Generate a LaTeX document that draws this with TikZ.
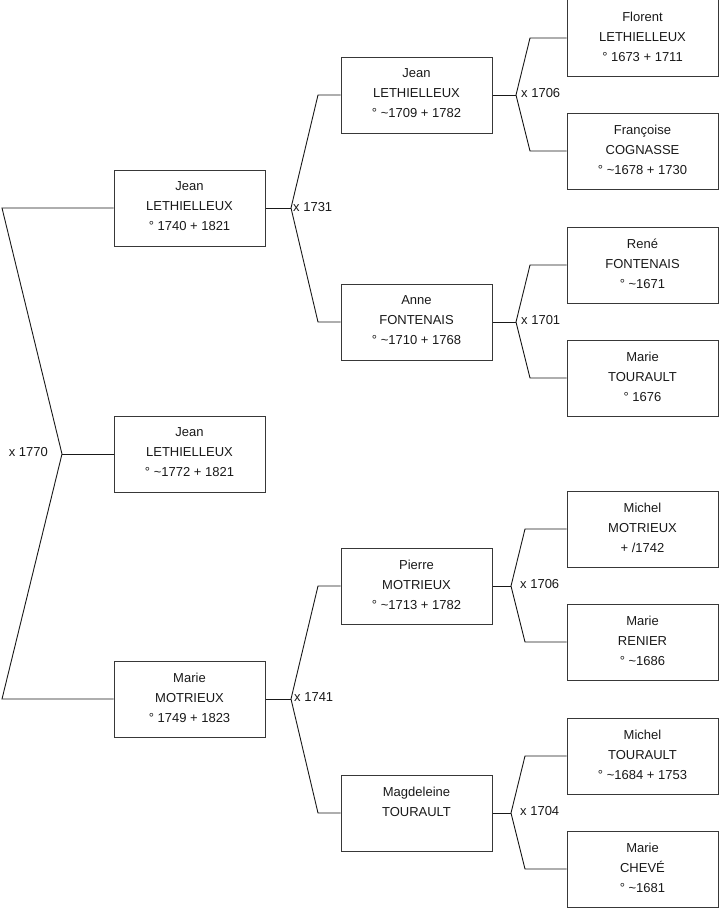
\documentclass[tikz,border=0pt]{standalone}
\usepackage{fontspec}
\setmainfont{Liberation Sans}
\newcommand{\tld}{\textasciitilde}
\begin{document}
\begin{tikzpicture}[x=1bp,y=-1bp,
  person/.style={draw=black!78, line width=1bp, minimum width=151bp, minimum height=76bp,
    align=center, inner sep=0pt, font=\fontsize{13bp}{20bp}\selectfont, text=black!90,
    execute at end node={\rule[-3bp]{0bp}{0bp}}},
  link/.style={draw=black!90, line width=0.9bp},
  marr/.style={inner sep=0pt, font=\fontsize{13bp}{15bp}\selectfont, text=black!90}]
\useasboundingbox (0,0) rectangle (719,908);
% generation 1
\node[person] (p1) at (189.5,208) {Jean\\LETHIELLEUX\\° 1740 + 1821};
\node[person] (p2) at (189.5,454) {Jean\\LETHIELLEUX\\° \tld1772 + 1821};
\node[person] (p3) at (189.5,699) {Marie\\MOTRIEUX\\° 1749 + 1823};
% generation 2
\node[person] (g1) at (416.5,95) {Jean\\LETHIELLEUX\\° \tld1709 + 1782};
\node[person] (g2) at (416.5,322) {Anne\\FONTENAIS\\° \tld1710 + 1768};
\node[person] (g3) at (416.5,586) {Pierre\\MOTRIEUX\\° \tld1713 + 1782};
\node[person] (g4) at (416.5,813) {Magdeleine\\TOURAULT\\\mbox{}};
% generation 3
\node[person] (h1) at (642.5,38) {Florent\\LETHIELLEUX\\° 1673 + 1711};
\node[person] (h2) at (642.5,151) {Françoise\\COGNASSE\\° \tld1678 + 1730};
\node[person] (h3) at (642.5,265) {René\\FONTENAIS\\° \tld1671};
\node[person] (h4) at (642.5,378) {Marie\\TOURAULT\\° 1676};
\node[person] (h5) at (642.5,529) {Michel\\MOTRIEUX\\+ /1742};
\node[person] (h6) at (642.5,642) {Marie\\RENIER\\° \tld1686};
\node[person] (h7) at (642.5,756) {Michel\\TOURAULT\\° \tld1684 + 1753};
\node[person] (h8) at (642.5,869) {Marie\\CHEVÉ\\° \tld1681};
% junctions and corners
\coordinate (m0) at (62,454);
\coordinate (c0a) at (2,208);
\coordinate (c0b) at (2,699);
\coordinate (m1) at (291,208);
\coordinate (c1a) at (318,95);
\coordinate (c1b) at (318,322);
\coordinate (m2) at (291,699);
\coordinate (c2a) at (318,586);
\coordinate (c2b) at (318,813);
\coordinate (m3) at (516,95);
\coordinate (c3a) at (530,38);
\coordinate (c3b) at (530,151);
\coordinate (m4) at (516,322);
\coordinate (c4a) at (530,265);
\coordinate (c4b) at (530,378);
\coordinate (m5) at (511,586);
\coordinate (c5a) at (525,529);
\coordinate (c5b) at (525,642);
\coordinate (m6) at (511,813);
\coordinate (c6a) at (525,756);
\coordinate (c6b) at (525,869);
% connectors
\draw[link] (p1.west) -- (c0a) -- (m0) -- (c0b) -- (p3.west);
\draw[link] (m0) -- (p2.west);
\draw[link] (p1.east) -- (m1);
\draw[link] (g1.west) -- (c1a) -- (m1) -- (c1b) -- (g2.west);
\draw[link] (p3.east) -- (m2);
\draw[link] (g3.west) -- (c2a) -- (m2) -- (c2b) -- (g4.west);
\draw[link] (g1.east) -- (m3);
\draw[link] (h1.west) -- (c3a) -- (m3) -- (c3b) -- (h2.west);
\draw[link] (g2.east) -- (m4);
\draw[link] (h3.west) -- (c4a) -- (m4) -- (c4b) -- (h4.west);
\draw[link] (g3.east) -- (m5);
\draw[link] (h5.west) -- (c5a) -- (m5) -- (c5b) -- (h6.west);
\draw[link] (g4.east) -- (m6);
\draw[link] (h7.west) -- (c6a) -- (m6) -- (c6b) -- (h8.west);
% marriage labels
\node[marr, anchor=east] (l0) at (48,452) {x 1770};
\node[marr, anchor=west] (l1) at (293,207) {x 1731};
\node[marr, anchor=west] (l2) at (294,697) {x 1741};
\node[marr, anchor=west] (l3) at (521,93) {x 1706};
\node[marr, anchor=west] (l4) at (521,320) {x 1701};
\node[marr, anchor=west] (l5) at (520,584) {x 1706};
\node[marr, anchor=west] (l6) at (520,811) {x 1704};
\end{tikzpicture}
\end{document}
